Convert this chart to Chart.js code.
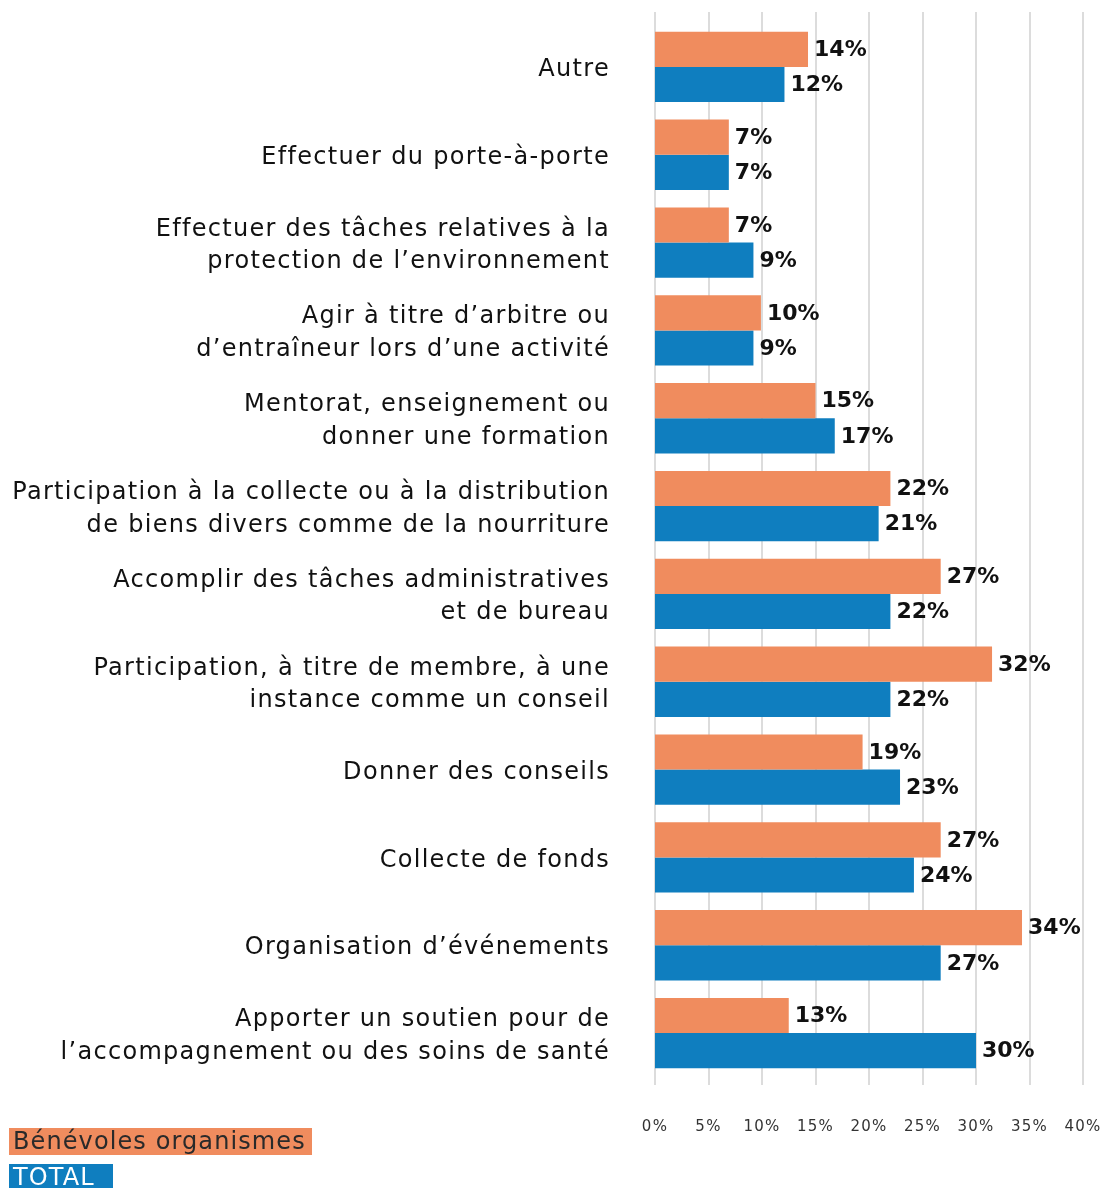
<!DOCTYPE html>
<html>
<head>
<meta charset="utf-8">
<script src="https://cdn.jsdelivr.net/npm/chart.js@4"></script>
<style>
  html, body { margin: 0; padding: 0; background: #fff; }
  #wrap { position: relative; width: 1103px; height: 1188px; overflow: hidden; }
  .legend { position: absolute; left: 9px; font-family: "DejaVu Sans", sans-serif; font-size: 24px; line-height: 27px; letter-spacing: 1.1px; padding: 0 6px 0 4px; }
</style>
</head>
<body>
<div id="wrap">
  <canvas id="chart" width="1103" height="1188"></canvas>
  <div class="legend" style="top:1128px; background:#F08C5E; color:#2a2a2a;">Bénévoles organismes</div>
  <div class="legend" style="top:1164px; background:#0F7EBF; color:#fff; padding-right:18px;">TOTAL</div>
</div>
<script>
// Categories (top to bottom)
const categories = [
  ["Autre"],
  ["Effectuer du porte-à-porte"],
  ["Effectuer des tâches relatives à la", "protection de l’environnement"],
  ["Agir à titre d’arbitre ou", "d’entraîneur lors d’une activité"],
  ["Mentorat, enseignement ou", "donner une formation"],
  ["Participation à la collecte ou à la distribution", "de biens divers comme de la nourriture"],
  ["Accomplir des tâches administratives", "et de bureau"],
  ["Participation, à titre de membre, à une", "instance comme un conseil"],
  ["Donner des conseils"],
  ["Collecte de fonds"],
  ["Organisation d’événements"],
  ["Apporter un soutien pour de", "l’accompagnement ou des soins de santé"]
];

// Series values (%)
const benevoles = [14.3, 6.9, 6.9, 9.9, 15.0, 22.0, 26.7, 31.5, 19.4, 26.7, 34.3, 12.5];
const total = [12.1, 6.9, 9.2, 9.2, 16.8, 20.9, 22.0, 22.0, 22.9, 24.2, 26.7, 30.0];

// Axis ticks
const xTicks = [0, 5, 10, 15, 20, 25, 30, 35, 40];

// Wider letter spacing for the axis labels only
const spacing = {
  id: "spacing",
  beforeDraw(chart) { chart.ctx.letterSpacing = "1.3px"; },
  beforeDatasetsDraw(chart) { chart.ctx.letterSpacing = "0px"; }
};

// Draw vertical gridlines slightly beyond the plot area
const gridPlugin = {
  id: "gridExt",
  beforeDatasetsDraw(chart) {
    const { ctx, chartArea, scales } = chart;
    ctx.save();
    ctx.strokeStyle = "#dcdcdc";
    ctx.lineWidth = 2;
    xTicks.forEach((t) => {
      const x = Math.round(scales.x.getPixelForValue(t));
      ctx.beginPath();
      ctx.moveTo(x, chartArea.top - 11);
      ctx.lineTo(x, chartArea.bottom + 8);
      ctx.stroke();
    });
    ctx.restore();
  }
};

// Value labels at the end of each bar
const valueLabels = {
  id: "valueLabels",
  afterDatasetsDraw(chart) {
    const { ctx } = chart;
    ctx.save();
    ctx.letterSpacing = "0px";
    ctx.font = "bold 22px 'DejaVu Sans', sans-serif";
    ctx.fillStyle = "#111";
    ctx.textBaseline = "middle";
    ctx.textAlign = "left";
    chart.data.datasets.forEach((ds, i) => {
      chart.getDatasetMeta(i).data.forEach((bar, j) => {
        ctx.fillText(Math.round(ds.data[j]) + "%", bar.x + 6, bar.y + 1);
      });
    });
    ctx.restore();
  }
};

const noPad = (scale) => {
  scale.paddingTop = 0;
  scale.paddingBottom = 0;
  scale.paddingLeft = 0;
  scale.paddingRight = 0;
};

new Chart(document.getElementById("chart"), {
  type: "bar",
  data: {
    labels: categories,
    datasets: [
      { label: "Bénévoles organismes", data: benevoles, backgroundColor: "#F08C5E" },
      { label: "TOTAL", data: total, backgroundColor: "#0F7EBF" }
    ]
  },
  options: {
    indexAxis: "y",
    responsive: false,
    animation: false,
    layout: { padding: { top: 23, right: 20 } },
    datasets: { bar: { categoryPercentage: 0.8, barPercentage: 1.0 } },
    plugins: { legend: { display: false }, tooltip: { enabled: false } },
    scales: {
      x: {
        min: 0,
        max: 40,
        border: { display: false },
        grid: { display: false },
        afterFit: (scale) => { scale.height = 111; noPad(scale); },
        afterBuildTicks: (scale) => { scale.ticks = xTicks.map((v) => ({ value: v })); },
        ticks: {
          padding: 33,
          color: "#333",
          font: { family: "'DejaVu Sans', sans-serif", size: 15 },
          callback: (v) => v + "%"
        }
      },
      y: {
        border: { display: false },
        grid: { display: false, drawTicks: false },
        afterFit: (scale) => { scale.width = 655; noPad(scale); },
        ticks: {
          padding: 45,
          labelOffset: 3,
          color: "#111",
          font: { family: "'DejaVu Sans', sans-serif", size: 24, lineHeight: 1.35 }
        }
      }
    }
  },
  plugins: [spacing, gridPlugin, valueLabels]
});
</script>
</body>
</html>
